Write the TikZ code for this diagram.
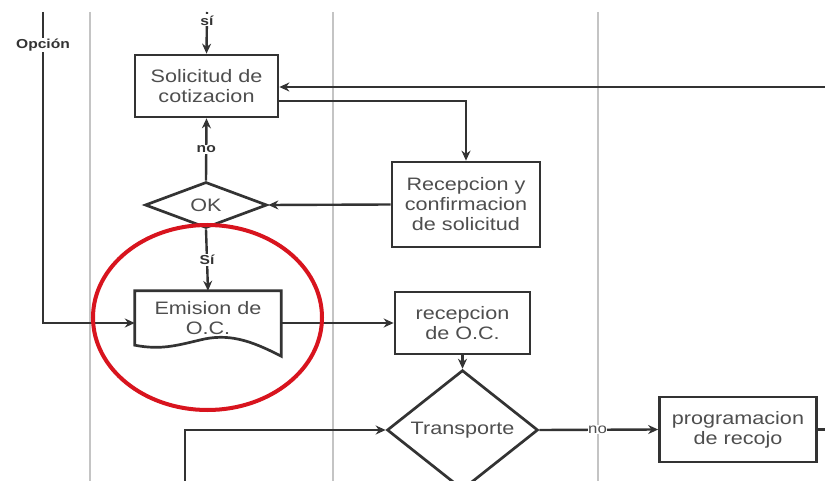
\documentclass[tikz,border=0pt]{standalone}
\usepackage{fontspec}
\setmainfont[FakeStretch=1.2]{Liberation Sans}
\usetikzlibrary{shapes.geometric,arrows.meta}

\definecolor{ink}{HTML}{333333}
\definecolor{txt}{HTML}{4E4E4E}
\definecolor{lane}{HTML}{C4C4C4}
\definecolor{ringred}{HTML}{D8141E}

\tikzset{
  procbox/.style={draw=ink, line width=2.7pt, fill=white, rectangle, inner sep=0pt,
    align=center, text=txt, font=\fontsize{18}{20}\selectfont},
  decision/.style={draw=ink, line width=2.7pt, fill=white, diamond, inner sep=0pt,
    align=center, text=txt, font=\fontsize{18}{20}\selectfont},
  flow/.style={draw=ink, line width=2.4pt, -{Stealth[length=10pt,width=9pt]}},
  plain/.style={draw=ink, line width=2.4pt},
  tag/.style={fill=white, inner sep=1pt, text=ink, font=\fontsize{13}{15}\selectfont\bfseries},
  swimlane/.style={draw=lane, line width=1.6pt}
}

\begin{document}
\begin{tikzpicture}[x=1pt, y=-1pt]
  \useasboundingbox (0,0) rectangle (825,481);
  \fill[white] (0,0) rectangle (825,481);

  % lane separators
  \draw[swimlane] (90,12) -- (90,481);
  \draw[swimlane] (333,12) -- (333,481);
  \draw[swimlane] (598,12) -- (598,481);

  % process steps
  \node[procbox, minimum width=143pt, minimum height=62pt] (solicitud) at (206.5,86)
    {Solicitud de\\cotizacion};
  \node[procbox, minimum width=148pt, minimum height=85pt] (recepcion) at (466,204.5)
    {Recepcion y\\confirmacion\\de solicitud};
  \node[decision, minimum width=122pt, minimum height=46pt] (ok) at (206,205) {OK};
  \node[procbox, minimum width=135pt, minimum height=62pt] (recepoc) at (462.5,323)
    {recepcion\\de O.C.};
  \node[decision, minimum width=151pt, minimum height=70pt] (transporte) at (462.5,430)
    {Transporte};
  \node[procbox, minimum width=157pt, minimum height=65pt] (recojo) at (738,429.5)
    {programacion\\de recojo};

  % document step with wavy lower edge
  \node[rectangle, inner sep=0pt, minimum width=146pt, minimum height=54pt] (emision)
    at (208,318) {};
  \draw[ink, line width=2.7pt, fill=white, line join=miter]
    (emision.south west) -- (emision.north west) -- (emision.north east)
    -- ([yshift=-11pt]emision.south east)
    .. controls (250,340) and (228,333) .. (200,340)
    .. controls (175,346) and (160,350) .. (emision.south west) -- cycle;
  \node[text=txt, font=\fontsize{18}{20}\selectfont, align=center] (emisiontext)
    at (emision.center) {Emision de\\O.C.};

  % free ends of connectors
  \coordinate (topin) at (207,12);
  \coordinate (rightin) at (825,87);
  \coordinate (opcion) at (43,12);
  \coordinate (bottomin) at (185,481);
  \coordinate (bottomout) at (462.5,481);
  \coordinate (rightout) at (825,429.5);

  % connectors
  \draw[flow] (topin) -- (solicitud.north) node[tag, pos=0.2] {sí};
  \draw[flow] (rightin) -- (solicitud.east |- rightin);
  \draw[flow] ([yshift=-15pt]solicitud.east) -| (recepcion.north);
  \draw[flow] (recepcion.west) -- (ok.east);
  \draw[flow] (ok.north) -- (solicitud.south) node[tag, midway] {no};
  \draw[flow] (ok.south) -- (emision.north) node[tag, midway] {Sí};
  \draw[flow] (opcion) |- ([yshift=-5pt]emision.west)
    node[tag, pos=0.053] {Opción};
  \draw[flow] ([yshift=-5pt]emision.east) -- (recepoc.west);
  \draw[flow] (recepoc.south) -- (transporte.north);
  \draw[flow] (bottomin) |- (transporte.west);
  \draw[plain] (transporte.south) -- (bottomout);
  \draw[flow] (transporte.east) -- (recojo.west)
    node[tag, pos=0.49, inner sep=0.5pt, text=txt, font=\fontsize{14}{16}\selectfont] {no};
  \draw[plain] (recojo.east) -- (rightout);

  % highlight ring
  \draw[ringred, line width=4pt] (207.5,317.5) ellipse [x radius=114.5pt, y radius=92.5pt];
\end{tikzpicture}
\end{document}
